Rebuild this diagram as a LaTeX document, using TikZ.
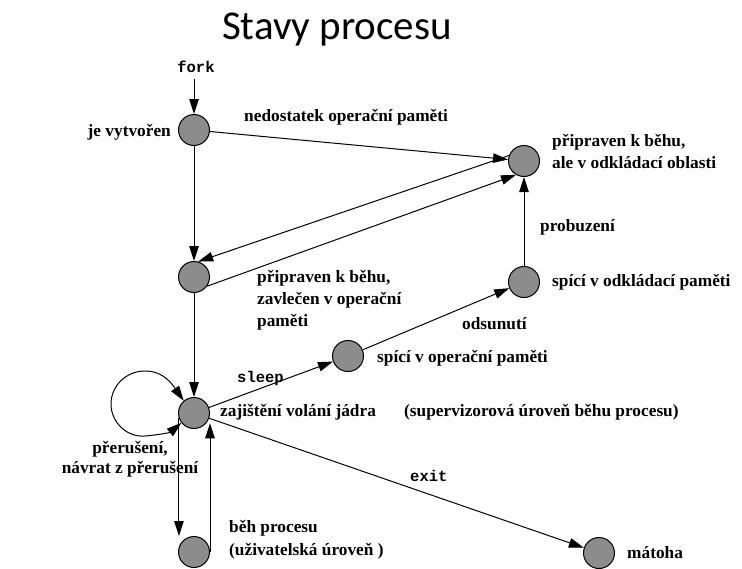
\documentclass[tikz,border=0pt]{standalone}
\usepackage{fontspec}
\setmainfont{Liberation Serif}
\newfontfamily\titlefont{Carlito}
\newfontfamily\codefont{Liberation Mono}
\usetikzlibrary{arrows.meta}

\tikzset{
  state/.style={circle, draw=black, line width=1pt, fill=black!45,
                minimum size=31pt, inner sep=0pt},
  lbl/.style={inner sep=0pt, font=\fontsize{17.3}{21.5}\selectfont\bfseries},
  cmd/.style={inner sep=0pt, font=\fontsize{15.5}{18}\selectfont\codefont\bfseries},
  tip/.tip={Triangle[length=15pt,width=9.5pt]},
  edge/.style={line width=1pt, -tip},
  bothedge/.style={line width=1pt, tip-tip},
}

\begin{document}
\begin{tikzpicture}[x=1pt, y=-1pt]
  \useasboundingbox (0,0) rectangle (742,568);

  % heading
  \node[inner sep=0pt, anchor=base, font=\fontsize{41}{48}\selectfont\titlefont] (title) at (337,39) {Stavy procesu};

  % process states
  \node[state] (created)  at (194,130) {};
  \node[state] (rdyswap)  at (524,161) {};
  \node[state] (rdymem)   at (194,277) {};
  \node[state] (slpswap)  at (524,282) {};
  \node[state] (slpmem)   at (348,356) {};
  \node[state] (kernel)   at (194,413) {};
  \node[state] (user)     at (194,552) {};
  \node[state] (zombie)   at (599,553) {};

  % entry point
  \node[cmd, anchor=base] (fork) at (196,72) {fork};
  \coordinate (forkend) at (194,79);

  % transitions
  \draw[edge] (forkend) -- (created);
  \draw[edge] (created) -- (rdyswap);
  \draw[edge] (rdyswap.160) -- (rdymem.75);
  \draw[edge] (rdymem.-35) -- (rdyswap.240);
  \draw[edge] (created) -- (rdymem);
  \draw[edge] (rdymem) -- (kernel);
  \draw[edge] (kernel) -- (slpmem);
  \draw[edge] (slpmem) -- (slpswap);
  \draw[edge] (slpswap) -- (rdyswap);
  \draw[edge] (kernel) -- (zombie);
  \draw[edge] (kernel.200) -- (kernel.200 |- user.north);
  \draw[edge] (user.east) -- (user.east |- kernel.320);
  % interrupt loop on the kernel state
  \draw[bothedge] (kernel.130) to[out=125, in=0] (145,371)
                  to[out=180, in=90] (111,404)
                  to[out=270, in=185] (145,436)
                  to[out=5, in=220] (kernel.218);

  % state and transition labels
  \node[lbl, anchor=base east] (lcreated) at (171,136) {je vytvořen};
  \node[lbl, anchor=base west] (lnomem) at (244,121) {nedostatek operační paměti};
  \node[lbl, anchor=base west] (lrdyswap1) at (552,146) {připraven k běhu,};
  \node[lbl, anchor=base west] (lrdyswap2) at (552,168) {ale v odkládací oblasti};
  \node[lbl, anchor=base west] (lwake) at (540,231) {probuzení};
  \node[lbl, anchor=base west] (lslpswap) at (552,286) {spící v odkládací paměti};
  \node[lbl, anchor=base west] (lrdymem1) at (257,282) {připraven k běhu,};
  \node[lbl, anchor=base west] (lrdymem2) at (257,304) {zavlečen v operační};
  \node[lbl, anchor=base west] (lrdymem3) at (257,326) {paměti};
  \node[lbl, anchor=base west] (lswapout) at (462,329) {odsunutí};
  \node[lbl, anchor=base west] (lslpmem) at (377,362) {spící v operační paměti};
  \node[cmd, anchor=base west] (lsleep) at (237,382) {sleep};
  \node[lbl, anchor=base west] (lkernel) at (220,416) {zajištění volání jádra};
  \node[lbl, anchor=base west] (lsuper) at (404,416) {(supervizorová úroveň běhu procesu)};
  \node[lbl, anchor=base] (lintr1) at (130,453) {přerušení,};
  \node[lbl, anchor=base] (lintr2) at (130,473) {návrat z přerušení};
  \node[cmd, anchor=base west] (lexit) at (410,481) {exit};
  \node[lbl, anchor=base west] (luser1) at (229,532) {běh procesu};
  \node[lbl, anchor=base west] (luser2) at (229,555) {(uživatelská úroveň )};
  \node[lbl, anchor=base west] (lzombie) at (627,558) {mátoha};
\end{tikzpicture}
\end{document}
